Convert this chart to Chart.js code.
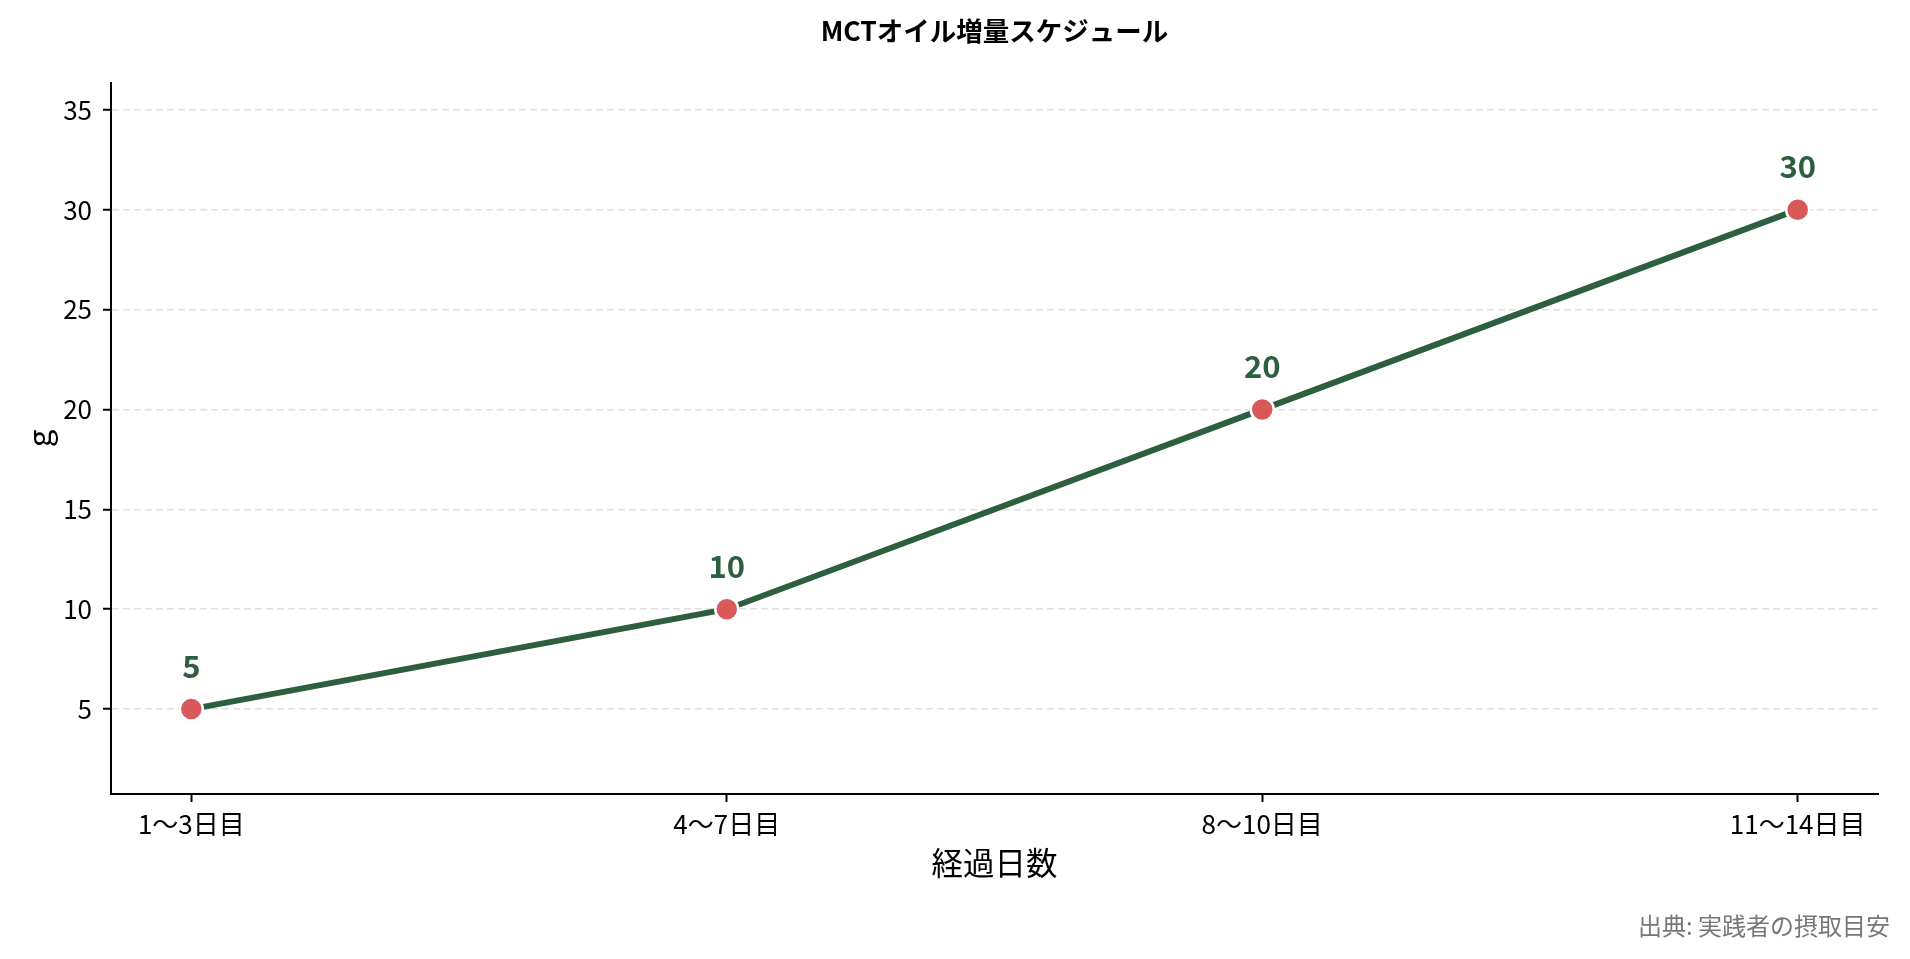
<!DOCTYPE html>
<html>
<head>
<meta charset="utf-8">
<script src="https://cdn.jsdelivr.net/npm/chart.js@4"></script>
<style>
  body { margin: 0; background: #fff; }
  #wrap { width: 1910px; height: 959px; }
</style>
</head>
<body>
<div id="wrap"><canvas id="scheduleChart"></canvas></div>
<script>
const categories = ["1〜3日目", "4〜7日目", "8〜10日目", "11〜14日目"];
const grams = [5, 10, 20, 30];
const yTicks = [5, 10, 15, 20, 25, 30, 35];

const lineGreen = "#2d5e3e";
const pointRed = "#d9585a";

Chart.defaults.font.family = "'Noto Sans CJK JP', 'Noto Sans', sans-serif";
Chart.defaults.color = "#000";

// value labels above each point
const valueLabels = {
  id: "valueLabels",
  afterDatasetsDraw(chart) {
    const ctx = chart.ctx;
    const meta = chart.getDatasetMeta(0);
    ctx.save();
    ctx.font = "bold 31px 'Noto Sans CJK JP'";
    ctx.fillStyle = lineGreen;
    ctx.textAlign = "center";
    ctx.textBaseline = "middle";
    meta.data.forEach((pt, i) => {
      ctx.fillText(String(grams[i]), pt.x, pt.y - 43);
    });
    ctx.restore();
  },
};

// source note bottom right
const sourceNote = {
  id: "sourceNote",
  afterDraw(chart) {
    const ctx = chart.ctx;
    ctx.save();
    ctx.font = "24px 'Noto Sans CJK JP'";
    ctx.fillStyle = "#777";
    ctx.textAlign = "right";
    ctx.textBaseline = "middle";
    ctx.fillText("出典: 実践者の摂取目安", chart.width - 20, 926);
    ctx.restore();
  },
};

const ctx = document.getElementById("scheduleChart");

new Chart(ctx, {
  type: "line",

  data: {
    datasets: [
      {
        label: "g",
        data: grams.map((v, i) => ({ x: i, y: v })),
        borderColor: lineGreen,
        borderWidth: 6,
        tension: 0,
        pointBackgroundColor: pointRed,
        pointBorderColor: "#fff",
        pointBorderWidth: 2.5,
        pointRadius: 11.5,
        pointHoverRadius: 11.5,
      },
    ],
  },

  options: {
    responsive: true,
    maintainAspectRatio: false,
    animation: false,
    layout: {
      padding: { left: 0, right: 32, top: 0, bottom: 45 },
    },

    plugins: {
      legend: { display: false },
      tooltip: { enabled: false },
      title: {
        display: true,
        text: "MCTオイル増量スケジュール",
        fullSize: false,
        color: "#000",
        font: { size: 26.5, weight: "bold" },
        padding: { top: 15, bottom: 36 },
      },
    },

    scales: {
      x: {
        type: "linear",
        min: -0.15,
        max: 3.15,
        afterFit: (scale) => { scale.height = 120; },
        afterBuildTicks: (scale) => {
          scale.ticks = categories.map((c, i) => ({ value: i }));
        },
        ticks: {
          font: { size: 26 },
          padding: 7,
          maxRotation: 0,
          callback: (value) => categories[value],
        },
        grid: {
          drawOnChartArea: false,
          tickLength: 8,
          tickColor: "#000",
          tickWidth: 2,
        },
        border: { color: "#000", width: 2 },
        title: {
          display: true,
          text: "経過日数",
          font: { size: 31.5 },
          padding: { top: 0, bottom: 32 },
        },
      },

      y: {
        min: 0.75,
        max: 36.35,
        afterFit: (scale) => { scale.width = 111; },
        afterBuildTicks: (scale) => {
          scale.ticks = yTicks.map((v) => ({ value: v }));
        },
        ticks: {
          font: { size: 26 },
          padding: 11,
        },
        grid: {
          color: "#e0e0e0",
          lineWidth: 1.5,
          tickBorderDash: [],
          tickLength: 8,
          tickColor: "#000",
          tickWidth: 2,
        },
        border: { color: "#000", width: 2, dash: [7, 4] },
        title: {
          display: true,
          text: "g",
          font: { size: 31.5 },
          padding: { top: 20, bottom: 0 },
        },
      },
    },
  },

  plugins: [valueLabels, sourceNote],
});
</script>
</body>
</html>
